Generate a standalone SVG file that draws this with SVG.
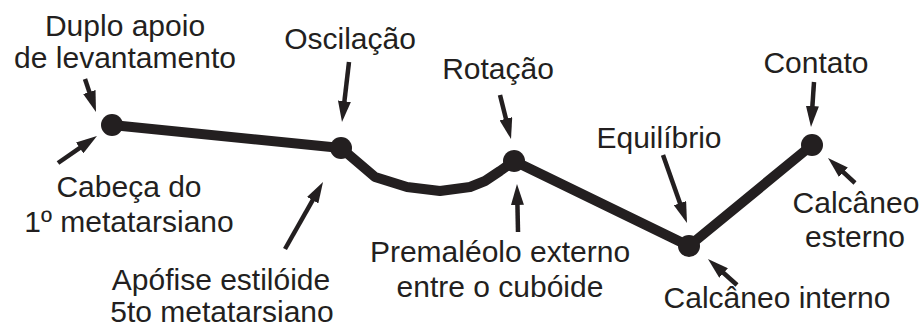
<svg xmlns="http://www.w3.org/2000/svg" width="921" height="329" viewBox="0 0 921 329">
<style>
text{font-family:"Liberation Sans",Arial,sans-serif;font-size:30px;fill:#231f20;text-anchor:middle}
.arr{stroke:#231f20;stroke-width:4.5;fill:none;marker-end:url(#ah)}
.path{stroke:#231f20;stroke-width:10;fill:none;stroke-linejoin:round;stroke-linecap:round}
.dot{fill:#231f20}
</style>
<defs>
<marker id="ah" markerUnits="userSpaceOnUse" markerWidth="21" markerHeight="13" refX="9" refY="6.5" orient="auto">
<path d="M0,0 L21,6.5 L0,13 z" fill="#231f20"/>
</marker>
</defs>
<g id="connectors">
<path class="path" d="M112,125 L341,148 L375,177 L407,187 L440,191 L470,187 L485,181 L500,171 L514,161 L689,246 L812,145"/>
<line class="arr" x1="85" y1="79" x2="92.2" y2="100.6"/>
<line class="arr" x1="58" y1="163" x2="87.1" y2="142.8"/>
<line class="arr" x1="349" y1="62" x2="343.4" y2="110.1"/>
<line class="arr" x1="285" y1="249" x2="317.1" y2="192.4"/>
<line class="arr" x1="500" y1="95" x2="508.1" y2="127.4"/>
<line class="arr" x1="518" y1="232" x2="517.25" y2="196"/>
<line class="arr" x1="663" y1="155" x2="683" y2="211.7"/>
<line class="arr" x1="737" y1="285" x2="716.9" y2="267"/>
<line class="arr" x1="814" y1="82" x2="811.8" y2="115"/>
<line class="arr" x1="855" y1="183" x2="836.8" y2="166.1"/>
</g>
<g id="n1"><circle class="dot" cx="112" cy="125" r="11"/></g>
<g id="n2"><circle class="dot" cx="341" cy="148" r="11"/></g>
<g id="n3"><circle class="dot" cx="514" cy="161" r="11"/></g>
<g id="n4"><circle class="dot" cx="689" cy="246" r="11"/></g>
<g id="n5"><circle class="dot" cx="812" cy="145" r="11"/></g>
<g id="labels">
<text x="125" y="36">Duplo apoio</text>
<text x="125" y="68">de levantamento</text>
<text x="350" y="49">Oscilação</text>
<text x="498" y="79">Rotação</text>
<text x="816" y="73">Contato</text>
<text x="659" y="148">Equilíbrio</text>
<text x="129" y="197">Cabeça do</text>
<text x="129" y="232">1º metatarsiano</text>
<text x="221" y="290">Apófise estilóide</text>
<text x="222" y="322">5to metatarsiano</text>
<text x="500" y="262">Premaléolo externo</text>
<text x="500" y="297">entre o cubóide</text>
<text x="777" y="308">Calcâneo interno</text>
<text x="856" y="213">Calcâneo</text>
<text x="855" y="247">esterno</text>
</g>
</svg>
